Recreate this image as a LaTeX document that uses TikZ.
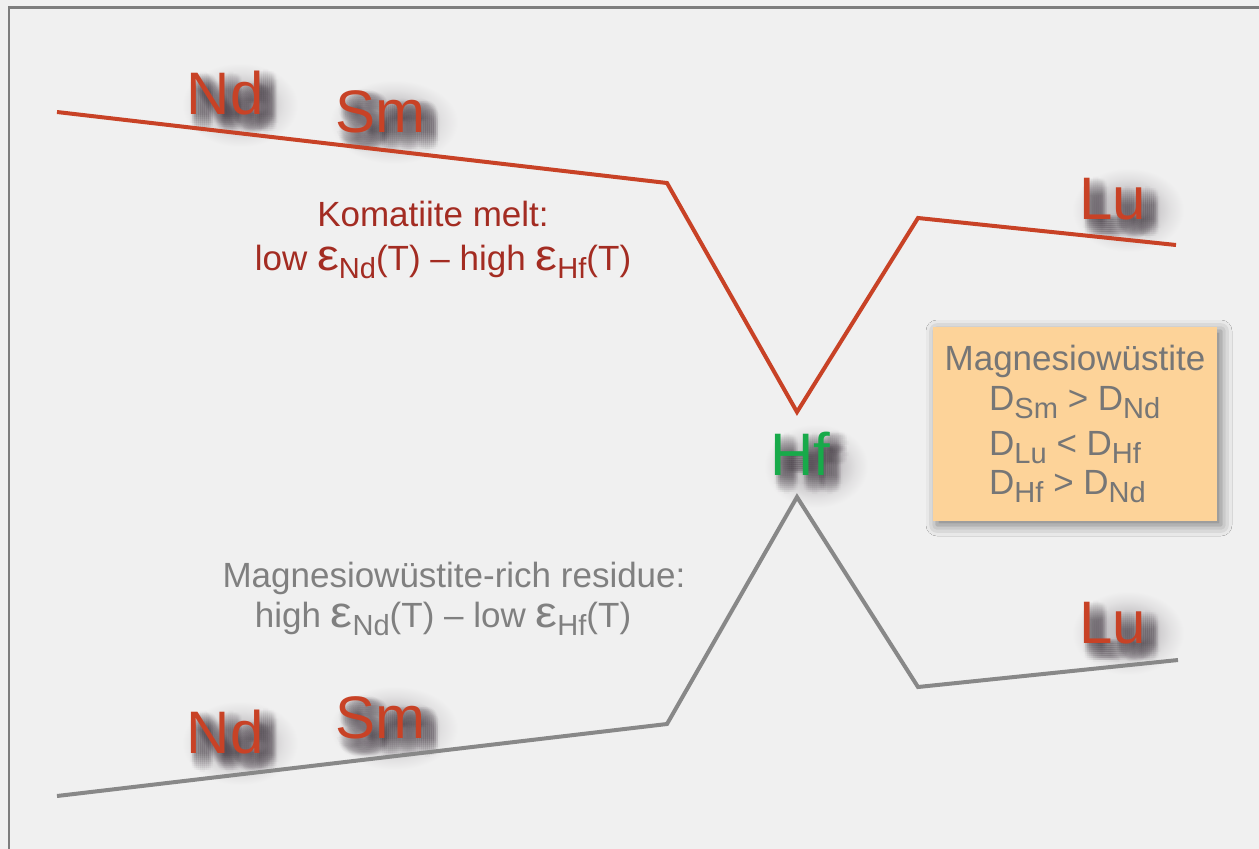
\documentclass[tikz,border=0pt]{standalone}
\usepackage{fontspec}
\setmainfont{Liberation Sans}
\usetikzlibrary{shadows.blur}

\definecolor{bg}{RGB}{240,240,240}
\definecolor{framegray}{RGB}{125,125,125}
\definecolor{elem}{RGB}{200,66,38}
\definecolor{melt}{RGB}{163,44,34}
\definecolor{resid}{RGB}{128,128,128}
\definecolor{hfgreen}{RGB}{24,170,74}
\definecolor{boxfill}{RGB}{253,211,153}
\definecolor{boxtext}{RGB}{118,118,118}
\definecolor{shade}{RGB}{62,52,62}
\definecolor{linegray}{RGB}{136,136,136}

% wide, faint halo beneath each label shadow
\pgfdeclareradialshading{labelhalo}{\pgfpoint{0bp}{0bp}}{%
  color(0bp)=(shade!30!bg); color(12bp)=(shade!22!bg); color(19bp)=(shade!8!bg);
  color(25bp)=(bg); color(50bp)=(bg)}

% lowered, smaller subscript in running text
\newcommand\sbs[1]{\raisebox{-0.23em}{\scalebox{0.83}{#1}}}
% wide epsilon
\newcommand\eps{\scalebox{1.4}[1.25]{ε}}

\tikzset{
  biglabel/.style={inner sep=0pt, anchor=base west, font=\fontsize{60}{60}\selectfont},
  midtext/.style={inner sep=0pt, anchor=base, font=\fontsize{35}{35}\selectfont},
  boxline/.style={inner sep=0pt, anchor=base west, text=boxtext, font=\fontsize{35}{35}\selectfont},
  curve/.style={line width=4pt, line join=miter},
  halo/.style={shading=labelhalo},
}

% soft text shadow: faint copies of the label spread over a disc
\newcommand\softshadow[2]{%
  \foreach \dx in {-10,-8,...,10}{
    \foreach \dy in {-10,-8,...,10}{
      \pgfmathtruncatemacro\rsq{\dx*\dx+\dy*\dy}
      \ifnum\rsq<101
        \pgfmathsetmacro\sx{9+\dx}
        \pgfmathsetmacro\sy{-9-\dy}
        \node[biglabel, text=shade, opacity=0.026, xshift=\sx pt, yshift=\sy pt] at (#1) {#2};
      \fi
    }
  }%
}

\begin{document}
\begin{tikzpicture}[x=1pt,y=-1pt]
  \useasboundingbox (0,0) rectangle (1259,849);
  \fill[bg] (0,0) rectangle (1259,849);
  \draw[framegray, line width=2.6pt] (9,849) -- (9,7.2) -- (1259,7.2);

  % halos
  \shade[halo] (240,105) ellipse [x radius=58, y radius=42];
  \shade[halo] (394,122) ellipse [x radius=64, y radius=42];
  \shade[halo] (1128,210) ellipse [x radius=56, y radius=42];
  \shade[halo] (816,466) ellipse [x radius=52, y radius=42];
  \shade[halo] (1128,633) ellipse [x radius=56, y radius=42];
  \shade[halo] (240,743) ellipse [x radius=58, y radius=42];
  \shade[halo] (394,728) ellipse [x radius=64, y radius=42];

  % shadows under the element labels
  \softshadow{186.5,114}{Nd}
  \softshadow{335,132}{Sm}
  \softshadow{1079,219}{Lu}
  \softshadow{770,475}{Hf}
  \softshadow{1079,643}{Lu}
  \softshadow{186.5,753}{Nd}
  \softshadow{335,738}{Sm}

  % melt pattern
  \coordinate (m1) at (57,112);
  \coordinate (m2) at (667,183);
  \coordinate (m3) at (797,412);
  \coordinate (m4) at (918,218);
  \coordinate (m5) at (1176,245);
  \draw[curve, elem] (m1) -- (m2) -- (m3) -- (m4) -- (m5);

  % residue pattern
  \coordinate (r1) at (57,796);
  \coordinate (r2) at (667,724);
  \coordinate (r3) at (797,497);
  \coordinate (r4) at (918,687);
  \coordinate (r5) at (1178,660);
  \draw[curve, linegray] (r1) -- (r2) -- (r3) -- (r4) -- (r5);

  % element labels
  \node[biglabel, text=elem] (ndTop) at (186.5,114) {Nd};
  \node[biglabel, text=elem] (smTop) at (335,132) {Sm};
  \node[biglabel, text=elem] (luTop) at (1079,219) {Lu};
  \node[biglabel, text=hfgreen] (hf) at (770,475) {Hf};
  \node[biglabel, text=elem] (luBot) at (1079,643) {Lu};
  \node[biglabel, text=elem] (ndBot) at (186.5,753) {Nd};
  \node[biglabel, text=elem] (smBot) at (335,738) {Sm};

  % descriptions
  \node[midtext, text=melt] (meltA) at (433,226) {Komatiite melt:};
  \node[midtext, text=melt] (meltB) at (443,270) {low \eps\sbs{Nd}(T) – high \eps\sbs{Hf}(T)};
  \node[midtext, text=resid] (resA) at (454,587) {Magnesiowüstite-rich residue:};
  \node[midtext, text=resid] (resB) at (443,627) {high \eps\sbs{Nd}(T) – low \eps\sbs{Hf}(T)};

  % partition coefficient box
  \fill[boxfill, blur shadow={shadow xshift=4pt, shadow yshift=-4pt, shadow blur radius=11pt, shadow opacity=50}]
    (933,327) rectangle (1217,521);
  \node[midtext, text=boxtext] (boxTitle) at (1075,370) {Magnesiowüstite};
  \node[boxline] (dA) at (989,410) {D\sbs{Sm} > D\sbs{Nd}};
  \node[boxline] (dB) at (989,455) {D\sbs{Lu} < D\sbs{Hf}};
  \node[boxline] (dC) at (989,494) {D\sbs{Hf} > D\sbs{Nd}};
\end{tikzpicture}
\end{document}
